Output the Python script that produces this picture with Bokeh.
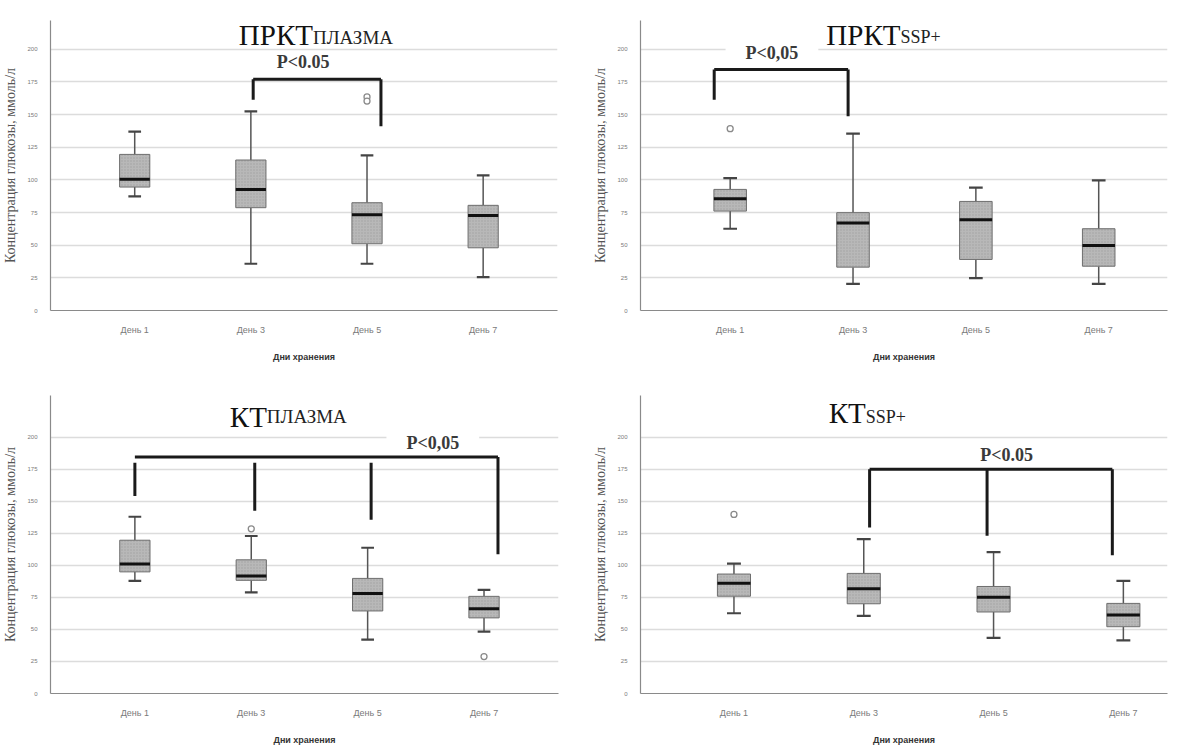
from bokeh.plotting import figure
from bokeh.layouts import column, row
from bokeh.models import Label, FixedTicker, Range1d, ColumnDataSource
from bokeh.embed import file_html
from bokeh.resources import INLINE

# ---------------- data ----------------
days = ["День 1", "День 3", "День 5", "День 7"]
day_pos = [1, 2, 3, 4]
y_ticks = [0, 25, 50, 75, 100, 125, 150, 175, 200]
y_label = "Концентрация глюкозы, ммоль/л"
x_label = "Дни хранения"

# ПРКТ плазма
prkt_pl_hi = [137.0, 152.5, 118.8, 103.4]
prkt_pl_q3 = [119.5, 115.2, 82.5, 80.5]
prkt_pl_med = [100.4, 92.7, 73.3, 72.8]
prkt_pl_q1 = [94.5, 78.7, 51.1, 48.0]
prkt_pl_lo = [87.4, 35.8, 35.8, 25.5]
prkt_pl_out_day = [3, 3]
prkt_pl_out_val = [163.5, 160.3]
prkt_pl_br_x = [2.02, 3.12]
prkt_pl_br_top = [177.0, 177.0]
prkt_pl_br_bottom = [161.4, 141.0]
prkt_pl_p_text = "P<0.05"

# ПРКТ SSP+
prkt_ssp_hi = [101.4, 135.4, 94.0, 99.6]
prkt_ssp_q3 = [92.7, 74.9, 83.5, 62.6]
prkt_ssp_med = [85.6, 66.9, 69.5, 49.8]
prkt_ssp_q1 = [76.1, 33.2, 39.1, 33.9]
prkt_ssp_lo = [62.6, 20.4, 24.8, 20.4]
prkt_ssp_out_day = [1]
prkt_ssp_out_val = [139.2]
prkt_ssp_br_x = [0.87, 1.96]
prkt_ssp_br_top = [184.4, 184.4]
prkt_ssp_br_bottom = [161.4, 148.7]
prkt_ssp_p_text = "P<0,05"

# КТ плазма
kt_pl_hi = [137.9, 122.9, 113.7, 80.9]
kt_pl_q3 = [119.6, 104.3, 89.8, 75.8]
kt_pl_med = [101.0, 91.6, 78.1, 66.2]
kt_pl_q1 = [94.9, 88.3, 64.4, 59.0]
kt_pl_lo = [87.8, 78.9, 42.0, 48.3]
kt_pl_out_day = [2, 4]
kt_pl_out_val = [128.5, 28.8]
kt_pl_br_x = [1.0, 2.03, 3.03, 4.12]
kt_pl_br_top = [180.0, 180.0, 180.0, 184.5]
kt_pl_br_bottom = [154.0, 142.5, 135.6, 108.6]
kt_pl_br_line = 184.5
kt_pl_p_text = "P<0,05"

# КТ SSP+
kt_ssp_hi = [101.4, 120.5, 110.3, 87.9]
kt_ssp_q3 = [93.2, 93.7, 83.5, 70.3]
kt_ssp_med = [86.0, 81.8, 75.1, 61.3]
kt_ssp_q1 = [75.9, 70.0, 63.6, 52.1]
kt_ssp_lo = [62.6, 60.5, 43.4, 41.4]
kt_ssp_out_day = [1]
kt_ssp_out_val = [139.7]
kt_ssp_br_x = [2.045, 2.95, 3.915]
kt_ssp_br_top = [174.9, 174.9, 174.9]
kt_ssp_br_bottom = [129.5, 123.1, 107.8]
kt_ssp_p_text = "P<0.05"

SERIF = "Liberation Serif"
SANS = "Liberation Sans"


def make_panel(width, height, borders, xr, ytop, hi, q3, med, q1, lo, out_d, out_v,
               br_x, br_top, br_bottom, br_line, p_text, p_pos,
               title_main, title_sub, title_pos, box_w):
    bl, br, bt, bb = borders
    p = figure(width=width, height=height, output_backend="svg",
               toolbar_location=None, x_range=Range1d(*xr),
               y_range=Range1d(0, ytop),
               min_border_left=bl, min_border_right=br,
               min_border_top=bt, min_border_bottom=bb)
    p.outline_line_color = None
    p.background_fill_color = "white"
    p.border_fill_color = "white"

    # axes
    p.xaxis.ticker = FixedTicker(ticks=day_pos)
    p.xaxis.major_label_overrides = {d: t for d, t in zip(day_pos, days)}
    p.yaxis.ticker = FixedTicker(ticks=y_ticks)
    for ax in (p.xaxis, p.yaxis):
        ax.axis_line_color = "#8a8a8a"
        ax.axis_line_width = 1.2
        ax.major_tick_line_color = None
        ax.minor_tick_line_color = None
        ax.major_label_text_color = "#7a7a7a"
    p.xaxis.major_label_text_font = SANS
    p.xaxis.major_label_text_font_size = "9px"
    p.xaxis.major_label_standoff = 8
    p.yaxis.major_label_text_font = SANS
    p.yaxis.major_label_text_font_size = "6px"
    p.yaxis.major_label_standoff = 7
    p.xaxis.axis_label = x_label
    p.xaxis.axis_label_text_font = SANS
    p.xaxis.axis_label_text_font_style = "bold"
    p.xaxis.axis_label_text_font_size = "9px"
    p.xaxis.axis_label_text_color = "#333333"
    p.xaxis.axis_label_standoff = 14
    p.yaxis.axis_label = y_label
    p.yaxis.axis_label_text_font = SERIF
    p.yaxis.axis_label_text_font_style = "normal"
    p.yaxis.axis_label_text_font_size = "14px"
    p.yaxis.axis_label_text_color = "#555555"
    p.yaxis.axis_label_standoff = 6

    p.xgrid.grid_line_color = None
    p.ygrid.grid_line_color = "#dcdcdc"
    p.ygrid.grid_line_width = 1.5

    cap_w = box_w * 0.42
    src = ColumnDataSource(dict(
        x=day_pos, hi=hi, q3=q3, med=med, q1=q1, lo=lo,
        bx0=[d - box_w / 2 for d in day_pos], bx1=[d + box_w / 2 for d in day_pos],
        cx0=[d - cap_w / 2 for d in day_pos], cx1=[d + cap_w / 2 for d in day_pos]))
    # whiskers
    p.segment(x0="x", y0="q3", x1="x", y1="hi", source=src,
              line_color="#555555", line_width=1.5)
    p.segment(x0="x", y0="q1", x1="x", y1="lo", source=src,
              line_color="#555555", line_width=1.5)
    # caps
    p.segment(x0="cx0", y0="hi", x1="cx1", y1="hi", source=src,
              line_color="#444444", line_width=2.2)
    p.segment(x0="cx0", y0="lo", x1="cx1", y1="lo", source=src,
              line_color="#444444", line_width=2.2)
    # boxes
    p.vbar(x="x", top="q3", bottom="q1", width=box_w, source=src,
           fill_color="#b8b8b8", line_color="#6e6e6e", line_width=1,
           hatch_pattern=".", hatch_color="#9c9c9c", hatch_scale=3,
           hatch_alpha=0.8)
    # medians
    p.segment(x0="bx0", y0="med", x1="bx1", y1="med", source=src,
              line_color="#111111", line_width=3)
    # outliers
    p.scatter(x=out_d, y=out_v, size=6, marker="circle",
              fill_color="white", line_color="#8a8a8a", line_width=1.3)

    # P label (white background interrupts grid lines)
    p.add_layout(Label(x=p_pos[0], y=p_pos[1], text=p_text,
                       text_align="center", text_baseline="middle",
                       text_font=SERIF, text_font_style="bold",
                       text_font_size="18px", text_color="#3a3a3a",
                       background_fill_color="white", padding=(20, 0)))

    # significance bracket (drawn as glyphs; annotation drawn above, keep separated)
    p.segment(x0=br_x, y0=br_top, x1=br_x, y1=br_bottom,
              line_color="#1a1a1a", line_width=3)
    p.segment(x0=[br_x[0]], y0=[br_line], x1=[br_x[-1]], y1=[br_line],
              line_color="#1a1a1a", line_width=3)

    # title (main + subscript)
    tx, ty_main, ty_sub = title_pos
    p.add_layout(Label(x=tx, y=ty_main, text=title_main, text_align="right",
                       text_baseline="alphabetic", text_font=SERIF,
                       text_font_size="29px", text_color="#111111"))
    p.add_layout(Label(x=tx, y=ty_sub, text=title_sub, text_align="left",
                       text_baseline="alphabetic", text_font=SERIF,
                       text_font_size=("19px" if title_sub != "SSP+" else "18px"),
                       text_color="#222222"))
    return p


p1 = make_panel(590, 365, (45, 33, 20, 55), (0.275, 4.64), 222.0,
                prkt_pl_hi, prkt_pl_q3, prkt_pl_med, prkt_pl_q1, prkt_pl_lo,
                prkt_pl_out_day, prkt_pl_out_val,
                prkt_pl_br_x, prkt_pl_br_top, prkt_pl_br_bottom, prkt_pl_br_top[0],
                prkt_pl_p_text, (2.45, 190.0),
                "ПРКТ", "ПЛАЗМА", (2.535, 210.7, 209.2), 0.26)
p2 = make_panel(596, 365, (35, 19, 20, 55), (0.27, 4.56), 222.0,
                prkt_ssp_hi, prkt_ssp_q3, prkt_ssp_med, prkt_ssp_q1, prkt_ssp_lo,
                prkt_ssp_out_day, prkt_ssp_out_val,
                prkt_ssp_br_x, prkt_ssp_br_top, prkt_ssp_br_bottom, prkt_ssp_br_top[0],
                prkt_ssp_p_text, (1.34, 197.0),
                "ПРКТ", "SSP+", (2.386, 210.7, 209.2), 0.265)
p3 = make_panel(590, 382, (45, 32, 30, 47), (0.275, 4.64), 232.5,
                kt_pl_hi, kt_pl_q3, kt_pl_med, kt_pl_q1, kt_pl_lo,
                kt_pl_out_day, kt_pl_out_val,
                kt_pl_br_x, kt_pl_br_top, kt_pl_br_bottom, kt_pl_br_line,
                kt_pl_p_text, (3.56, 195.5),
                "КТ", "ПЛАЗМА", (2.134, 216.0, 216.0), 0.26)
p4 = make_panel(596, 382, (37, 19, 30, 48), (0.28, 4.34), 232.5,
                kt_ssp_hi, kt_ssp_q3, kt_ssp_med, kt_ssp_q1, kt_ssp_lo,
                kt_ssp_out_day, kt_ssp_out_val,
                kt_ssp_br_x, kt_ssp_br_top, kt_ssp_br_bottom, kt_ssp_br_top[0],
                kt_ssp_p_text, (3.1, 185.7),
                "КТ", "SSP+", (2.015, 219.0, 216.0), 0.255)

layout = column(row(p1, p2), row(p3, p4))
open("out.html", "w").write(file_html(layout, INLINE))
